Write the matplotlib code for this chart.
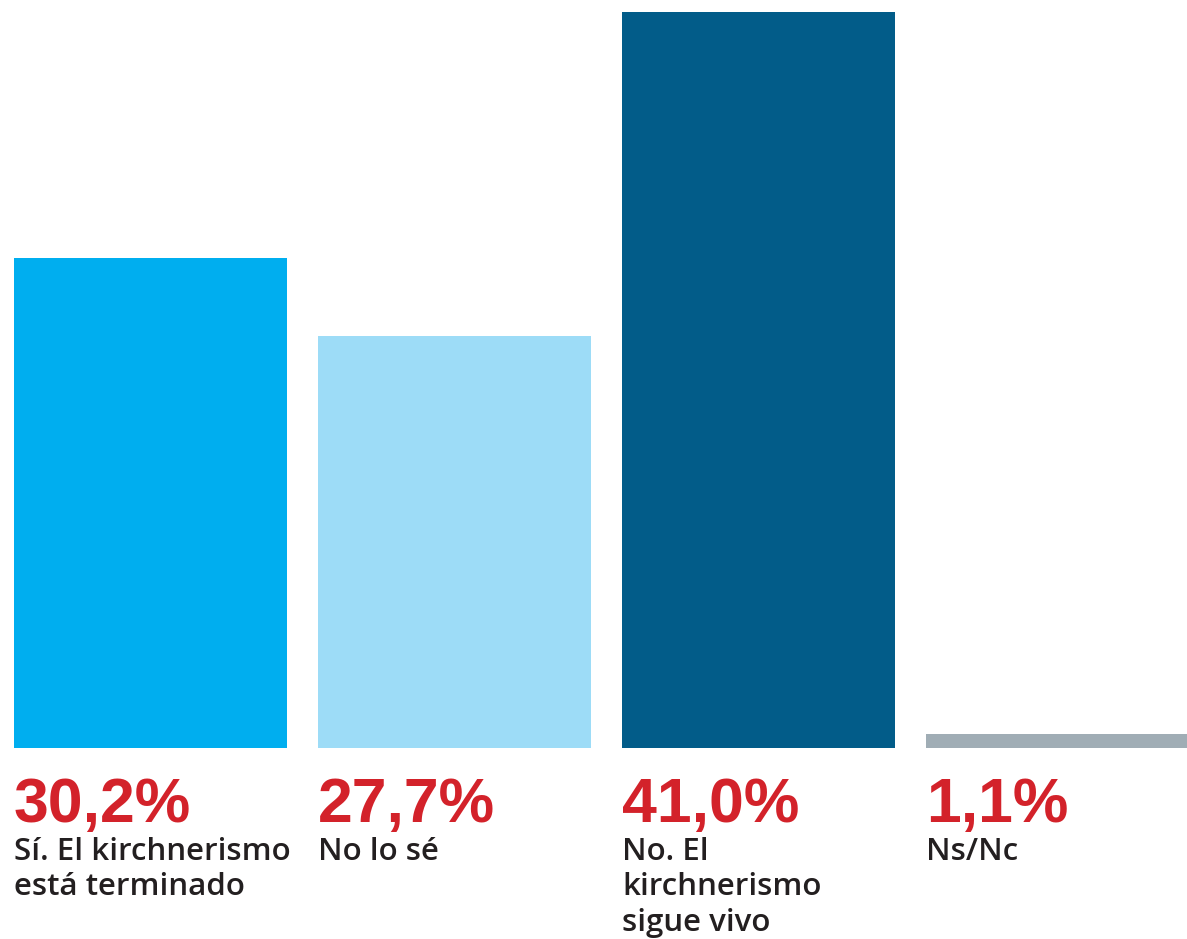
import matplotlib
matplotlib.use('Agg')
import matplotlib.pyplot as plt
import matplotlib.transforms as mtransforms

# values shown in the labels
pct_labels = ['30,2%', '27,7%', '41,0%', '1,1%']
answers = ['Sí. El kirchnerismo\nestá terminado', 'No lo sé',
           'No. El\nkirchnerismo\nsigue vivo', 'Ns/Nc']
# bar heights as drawn in the picture (not proportional to the labels)
bar_heights = [27.3, 22.95, 41.0, 0.78]
colors = ['#00AEEF', '#9DDCF7', '#025C89', '#A0ADB5']

W, H = 1187, 939
fig = plt.figure(figsize=(W / 100, H / 100), dpi=100)
# axes placed in pixel units: bottom of bars at 191 px, top of tallest at 927 px
ax = fig.add_axes([0, 191 / H, 1, 736 / H])
ax.set_xlim(-150.5 / 304, (W - 150.5) / 304)
ax.set_ylim(0, 41.0)
ax.axis('off')

width = 273 / 304
xs = list(range(len(bar_heights)))
ax.bar(xs, bar_heights, width=width, color=colors, linewidth=0)

trans = mtransforms.blended_transform_factory(ax.transData, ax.transAxes)
for x, p, a in zip(xs, pct_labels, answers):
    left = x - width / 2
    ax.text(left, -74 / 736, p, transform=trans, ha='left', va='baseline',
            fontsize=45, fontweight='bold', color='#D3222A',
            family='Liberation Sans', clip_on=False)
    ax.text(left, -89 / 736, a, transform=trans, ha='left', va='top',
            fontsize=22.5, fontweight='semibold', color='#231F20',
            family='Open Sans', linespacing=1.23, clip_on=False)

fig.savefig('out.png', dpi=100)
